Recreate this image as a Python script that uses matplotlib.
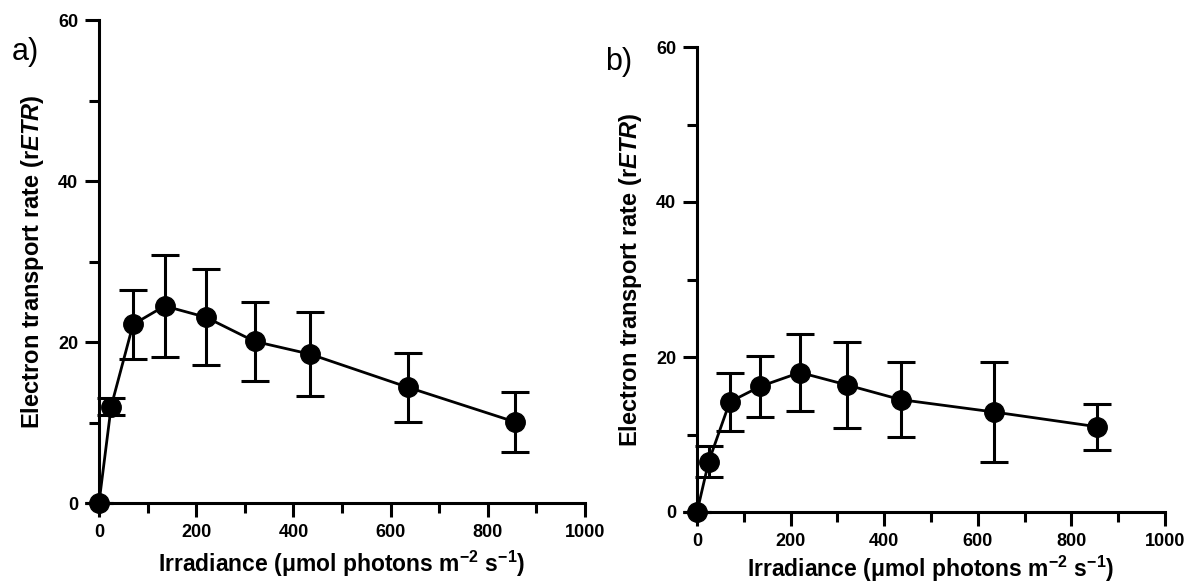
import matplotlib
matplotlib.use("Agg")
import matplotlib.pyplot as plt
from matplotlib.ticker import MultipleLocator

plt.rcParams['font.family'] = ['Liberation Sans', 'DejaVu Sans']
plt.rcParams['mathtext.fontset'] = 'custom'
plt.rcParams['mathtext.rm'] = 'Liberation Sans:bold'
plt.rcParams['mathtext.it'] = 'Liberation Sans:italic:bold'
plt.rcParams['mathtext.bf'] = 'Liberation Sans:bold'

# Data
irradiance = [0, 25, 70, 135, 220, 320, 435, 635, 855]
etr_a = [0, 12.0, 22.2, 24.5, 23.1, 20.1, 18.5, 14.4, 10.1]
err_a = [0, 1.0, 4.3, 6.3, 6.0, 4.9, 5.2, 4.3, 3.7]
etr_b = [0, 6.5, 14.2, 16.2, 18.0, 16.4, 14.5, 12.9, 11.0]
err_b = [0, 2.0, 3.7, 3.9, 5.0, 5.5, 4.8, 6.4, 3.0]
xticks = [0, 200, 400, 600, 800, 1000]
yticks = [0, 20, 40, 60]
panel_labels = ['a)', 'b)']

W, H = 1190, 584
fig = plt.figure(figsize=(W / 100, H / 100), dpi=100)

def px_axes(left, right, top, bottom):
    return fig.add_axes([left / W, (H - bottom) / H, (right - left) / W, (bottom - top) / H])

ax_a = px_axes(99, 585, 20.5, 503)
ax_b = px_axes(697, 1165, 47, 512)

for ax, y, e, lp in [(ax_a, etr_a, err_a, 6), (ax_b, etr_b, err_b, 3)]:
    ax.errorbar(irradiance, y, yerr=e, color='black', lw=2, marker='o', ms=14,
                capsize=10, capthick=2.2, elinewidth=2.2, clip_on=False, zorder=3)
    ax.set_xlim(0, 1000)
    ax.set_ylim(0, 60)
    ax.set_xticks(xticks)
    ax.set_yticks(yticks)
    ax.xaxis.set_minor_locator(MultipleLocator(100))
    ax.yaxis.set_minor_locator(MultipleLocator(10))
    for s in ['top', 'right']:
        ax.spines[s].set_visible(False)
    for s in ['left', 'bottom']:
        ax.spines[s].set_linewidth(2.2)
    ax.tick_params(which='major', length=10, width=2.2, labelsize=13, pad=5)
    ax.tick_params(which='minor', length=7.5, width=2.2)
    for t in ax.get_xticklabels() + ax.get_yticklabels():
        t.set_fontweight('bold')
    ax.set_xlabel('Irradiance (μmol photons m$^{-2}$ s$^{-1}$)', fontsize=16.5,
                  fontweight='bold', labelpad=lp)
    ax.set_ylabel('Electron transport rate (r$\\mathit{ETR}$)', fontsize=17,
                  fontweight='bold', labelpad=9)

fig.text(12 / W, 1 - 52 / H, panel_labels[0], fontsize=22, va='center', ha='left')
fig.text(605 / W, 1 - 62 / H, panel_labels[1], fontsize=22, va='center', ha='left')

fig.savefig('out.png', dpi=100)
